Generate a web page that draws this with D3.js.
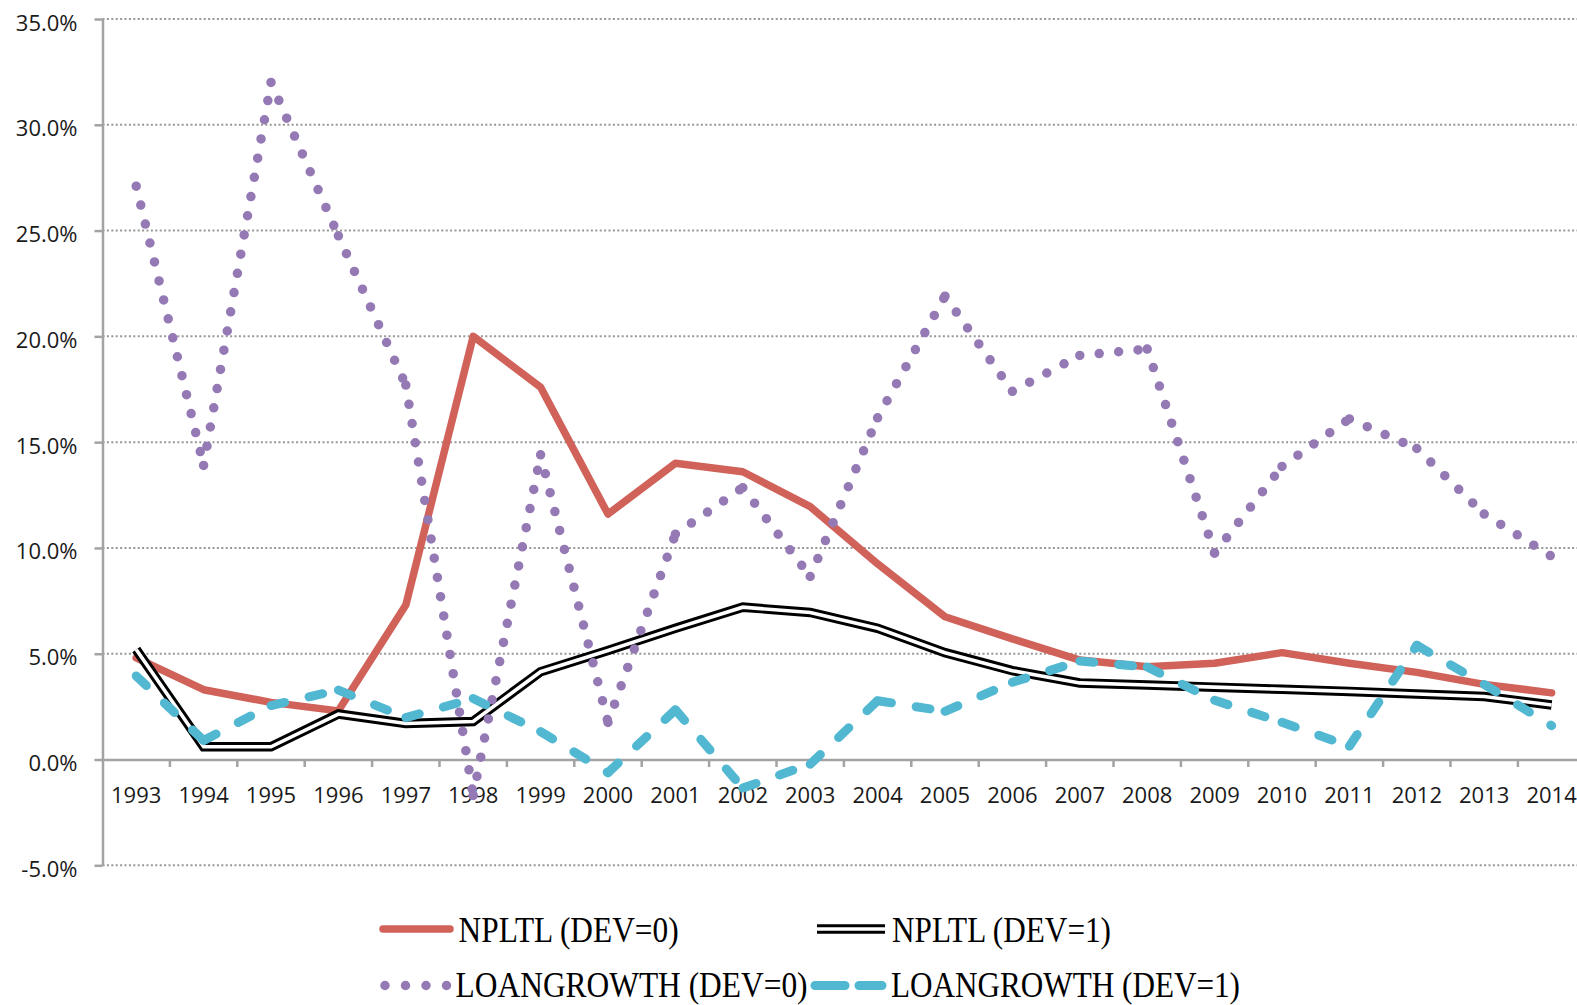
<!DOCTYPE html>
<html>
<head>
<meta charset="utf-8">
<script src="https://cdn.jsdelivr.net/npm/d3@7/dist/d3.min.js"></script>
<style>
  html, body { margin: 0; padding: 0; background: #fff; }
  svg { display: block; }
</style>
</head>
<body>
<svg id="chart" width="1577" height="1005"></svg>
<script>
const years = ["1993","1994","1995","1996","1997","1998","1999","2000","2001","2002","2003",
               "2004","2005","2006","2007","2008","2009","2010","2011","2012","2013","2014"];
const npltlDev0 = [4.8, 3.3, 2.7, 2.3, 7.3, 20.0, 17.6, 11.6, 14.0, 13.6, 11.95,
                   9.25, 6.75, 5.7, 4.7, 4.38, 4.55, 5.05, 4.55, 4.12, 3.55, 3.15];
const npltlDev1 = [5.2, 0.6, 0.6, 2.15, 1.7, 1.8, 4.15, 5.15, 6.2, 7.2, 6.95,
                   6.2, 5.05, 4.2, 3.62, 3.52, 3.42, 3.32, 3.22, 3.1, 2.98, 2.58];
const loanDev0 = [27.1, 13.9, 32.0, 24.75, 17.7, -1.7, 14.4, 1.75, 10.65, 12.85, 8.65,
                  16.15, 21.9, 17.4, 19.1, 19.4, 9.75, 13.85, 16.1, 14.7, 11.6, 9.6];
const loanDev1 = [3.95, 0.9, 2.55, 3.28, 1.98, 2.88, 1.32, -0.62, 2.35, -1.35, -0.22,
                  2.78, 2.28, 3.65, 4.65, 4.37, 2.8, 1.76, 0.63, 5.4, 3.55, 1.6];
const yTicks = [-5, 0, 5, 10, 15, 20, 25, 30, 35];
const legendLabels = ["NPLTL (DEV=0)", "NPLTL (DEV=1)", "LOANGROWTH (DEV=0)", "LOANGROWTH (DEV=1)"];

const W = 1577, H = 1005;
const left = 102.5, band = 67.4;
const svg = d3.select("#chart");

const x = d3.scaleBand().domain(years).range([left, left + years.length * band]).padding(0);
const cx = d => x(d) + x.bandwidth() / 2;
const y = d3.scaleLinear().domain([-5, 35]).range([865.3, 19]);

const axisColor = "#a3a3a3";
const font = "'Open Sans', 'Noto Sans', sans-serif";

// gridlines
svg.append("g").selectAll("line")
  .data(yTicks.filter(t => t !== 0))
  .join("line")
  .attr("x1", left).attr("x2", W)
  .attr("y1", d => y(d)).attr("y2", d => y(d))
  .attr("stroke", "#979797").attr("stroke-width", 2)
  .attr("stroke-dasharray", "2,2.4");

// y axis
const yAxis = svg.append("g").attr("transform", `translate(${left},0)`)
  .call(d3.axisLeft(y).tickValues(yTicks).tickSize(8).tickSizeOuter(0).tickPadding(17)
        .tickFormat(d => d.toFixed(1) + "%"));
yAxis.select(".domain").attr("stroke", axisColor).attr("stroke-width", 2.5);
yAxis.selectAll(".tick line").attr("stroke", axisColor).attr("stroke-width", 2.5);
yAxis.selectAll("text").attr("dy", 11).attr("font-family", font).attr("font-size", 22).attr("fill", "#1a1a1a");

// x axis
const xAxis = svg.append("g").attr("transform", `translate(0,${y(0)})`)
  .call(d3.axisBottom(x).tickSize(0).tickSizeOuter(0).tickPadding(0));
xAxis.select(".domain").attr("stroke", axisColor).attr("stroke-width", 2.5);
xAxis.selectAll("text").attr("y", 43.5).attr("dy", 0)
  .attr("font-family", font).attr("font-size", 22).attr("fill", "#1a1a1a");
xAxis.append("g").selectAll("line")
  .data(years.slice(1).map(d => x(d)).concat([x(years[years.length - 1]) + x.bandwidth()]))
  .join("line")
  .attr("x1", d => d).attr("x2", d => d).attr("y1", 0).attr("y2", 7.5)
  .attr("stroke", axisColor).attr("stroke-width", 2.5);

const line = d3.line().x((d, i) => cx(years[i])).y(d => y(d));

// NPLTL DEV=0
svg.append("path").attr("d", line(npltlDev0)).attr("fill", "none")
  .attr("stroke", "#d0625a").attr("stroke-width", 7.5)
  .attr("stroke-linejoin", "round").attr("stroke-linecap", "round");

// NPLTL DEV=1 (double line)
svg.append("path").attr("d", line(npltlDev1)).attr("fill", "none")
  .attr("stroke", "#000").attr("stroke-width", 9.5).attr("stroke-linejoin", "miter");
svg.append("path").attr("d", line(npltlDev1)).attr("fill", "none")
  .attr("stroke", "#fff").attr("stroke-width", 3.6).attr("stroke-linejoin", "miter");

// segmented series (pattern restarts at every point)
function segments(vals) {
  const out = [];
  for (let i = 0; i < vals.length - 1; i++) {
    out.push([[cx(years[i]), y(vals[i])], [cx(years[i + 1]), y(vals[i + 1])]]);
  }
  return out;
}
const segLine = d3.line();

svg.append("g").selectAll("path").data(segments(loanDev0)).join("path")
  .attr("d", d => segLine(d)).attr("fill", "none")
  .attr("stroke", "#9479b5").attr("stroke-width", 9.5)
  .attr("stroke-linecap", "round").attr("stroke-dasharray", "0,19.5");

svg.append("g").selectAll("path").data(segments(loanDev1)).join("path")
  .attr("d", d => segLine(d)).attr("fill", "none")
  .attr("stroke", "#52b8d2").attr("stroke-width", 9)
  .attr("stroke-linecap", "round").attr("stroke-dasharray", "14,25");

// legend
const lg = svg.append("g");
const serif = "'Liberation Serif', 'Times New Roman', serif";
lg.append("line").attr("x1", 383).attr("x2", 450).attr("y1", 929).attr("y2", 929)
  .attr("stroke", "#d0625a").attr("stroke-width", 7.5).attr("stroke-linecap", "round");
lg.append("line").attr("x1", 817).attr("x2", 885).attr("y1", 929).attr("y2", 929)
  .attr("stroke", "#000").attr("stroke-width", 9.5);
lg.append("line").attr("x1", 817).attr("x2", 885).attr("y1", 929).attr("y2", 929)
  .attr("stroke", "#fff").attr("stroke-width", 3.6);
lg.append("line").attr("x1", 385).attr("x2", 448).attr("y1", 985.5).attr("y2", 985.5)
  .attr("stroke", "#9479b5").attr("stroke-width", 9.5)
  .attr("stroke-linecap", "round").attr("stroke-dasharray", "0,20.5");
lg.append("line").attr("x1", 815).attr("x2", 882).attr("y1", 985.5).attr("y2", 985.5)
  .attr("stroke", "#52b8d2").attr("stroke-width", 9)
  .attr("stroke-linecap", "round").attr("stroke-dasharray", "30,14");

const legendPos = [
  {x: 458.6, y: 942, w: 220},
  {x: 892, y: 942, w: 219},
  {x: 455.6, y: 997, w: 352},
  {x: 891, y: 997, w: 349}
];
lg.selectAll("text").data(legendLabels).join("text")
  .attr("x", (d, i) => legendPos[i].x).attr("y", (d, i) => legendPos[i].y)
  .attr("textLength", (d, i) => legendPos[i].w).attr("lengthAdjust", "spacingAndGlyphs")
  .attr("font-family", serif).attr("font-size", 35).attr("fill", "#000")
  .text(d => d);
</script>
</body>
</html>
